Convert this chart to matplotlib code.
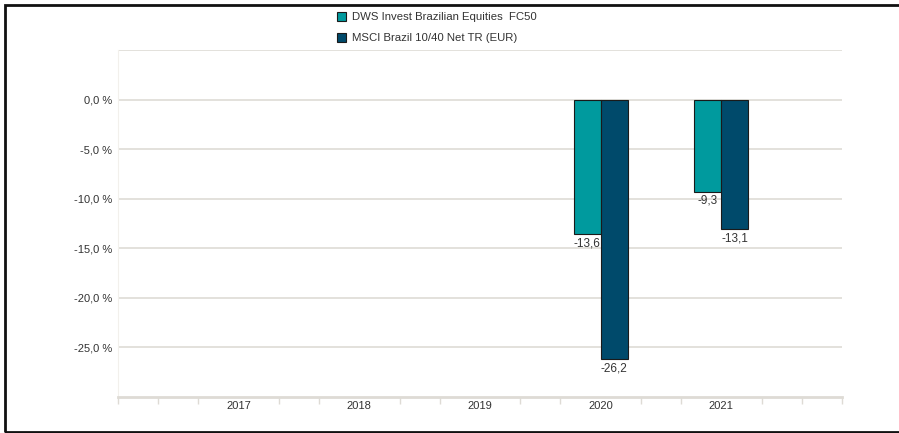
import numpy as np
import matplotlib.pyplot as plt
from matplotlib.patches import Rectangle
from matplotlib.ticker import FixedLocator, FuncFormatter

plt.rcParams['font.family'] = ['Liberation Sans', 'DejaVu Sans']

years = ['2017', '2018', '2019', '2020', '2021']
fund = [np.nan, np.nan, np.nan, -13.6, -9.3]
bench = [np.nan, np.nan, np.nan, -26.2, -13.1]
series_names = ['DWS Invest Brazilian Equities  FC50', 'MSCI Brazil 10/40 Net TR (EUR)']
colors = ['#009a9e', '#004a6b']

fig = plt.figure(figsize=(8.99, 4.33), dpi=100)
ax = fig.add_axes([118 / 899, 1 - 397 / 433, (842 - 118) / 899, (397 - 50) / 433])

x = np.arange(1, len(years) + 1)
w = 0.224
grid_c = '#dedbd5'
text_c = '#333333'

for vals, off, c, name in [(fund, -w / 2, colors[0], series_names[0]),
                           (bench, w / 2, colors[1], series_names[1])]:
    bars = ax.bar(x + off, vals, w, color=c, edgecolor='#1a1a1a', linewidth=0.8, label=name, zorder=3)
    for xi, v in zip(x + off, vals):
        if np.isnan(v):
            continue
        ax.annotate(f'{v:.1f}'.replace('.', ','), (xi, v), xytext=(0, -2), textcoords='offset points',
                    ha='center', va='top', fontsize=8.5, color=text_c, zorder=4)

ax.set_xlim(0, 6)
ax.set_ylim(-30, 5)
ax.set_yticks([0, -5, -10, -15, -20, -25, 5])
ax.yaxis.set_major_formatter(FuncFormatter(lambda v, p: '' if v > 0 else f'{v:.1f} %'.replace('.', ',')))
ax.grid(axis='y', color=grid_c, linewidth=1.2, zorder=0)
ax.tick_params(axis='y', length=0, labelsize=8, labelcolor=text_c, pad=4)

ax.set_xticks(x)
ax.set_xticklabels(years)
ax.xaxis.set_minor_locator(FixedLocator(np.arange(0, 6.01, 1 / 3)))
ax.tick_params(axis='x', which='major', length=0, labelsize=8, labelcolor=text_c, pad=3)
ax.tick_params(axis='x', which='minor', length=5, width=1, color=grid_c)

for s in ['top', 'right']:
    ax.spines[s].set_visible(False)
ax.spines['left'].set_color('#f2f0ec')
ax.spines['left'].set_linewidth(0.8)
ax.spines['bottom'].set_color(grid_c)
ax.spines['bottom'].set_linewidth(2)

ax.legend(loc='upper left', bbox_to_anchor=(329 / 899, 1 - 4 / 433), bbox_transform=fig.transFigure,
          frameon=False, fontsize=8.2, handlelength=0.8, handleheight=0.8, handletextpad=0.5,
          labelspacing=0.95, borderpad=0.2, labelcolor=text_c)

# frame around the picture (right side is cut off in the original)
fig.patches.append(Rectangle((5 / 899, 1.5 / 433), 1.2, 1 - 6 / 433, transform=fig.transFigure,
                             fill=False, edgecolor='#111111', linewidth=2, zorder=10))

fig.savefig('out.png', dpi=100)
